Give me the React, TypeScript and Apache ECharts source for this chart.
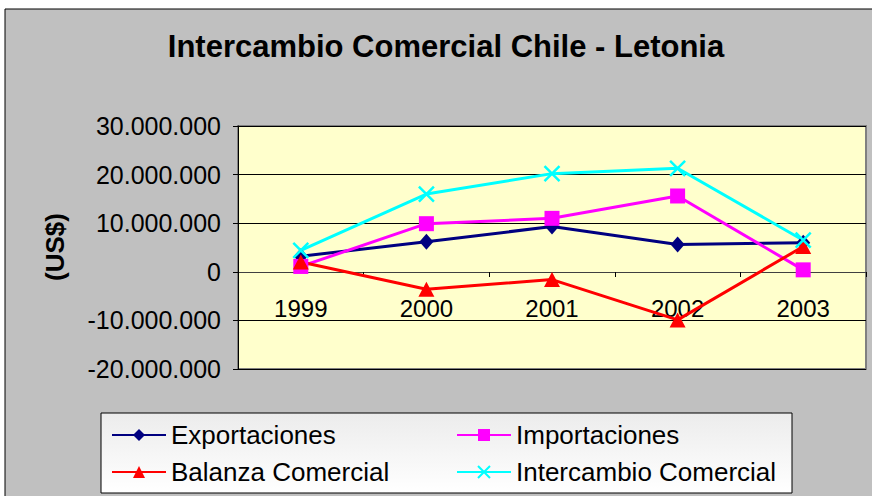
import React, { useEffect, useRef } from 'react';
import * as echarts from 'echarts';

const years = ['1999', '2000', '2001', '2002', '2003'];
const exportaciones = [3200000, 6200000, 9300000, 5600000, 6000000];
const importaciones = [1100000, 9900000, 11000000, 15600000, 400000];
const balanza = [2000000, -3600000, -1600000, -9900000, 5200000];
const intercambio = [4400000, 16000000, 20200000, 21300000, 6500000];

const titleText = 'Intercambio Comercial Chile - Letonia';
const yName = '(US$)';

const FONT = '"Liberation Sans", Arial, sans-serif';

const fmt = (v: number) => {
  const s = Math.abs(v).toString().replace(/\B(?=(\d{3})+(?!\d))/g, '.');
  return (v < 0 ? '-' : '') + s;
};

export default function App() {
  const ref = useRef<HTMLDivElement>(null);
  useEffect(() => {
    document.body.style.margin = '0';
    const chart = echarts.init(ref.current!, null, { renderer: 'svg' });
    const legendCommon = {
      orient: 'vertical',
      top: 417,
      itemGap: 11,
      itemWidth: 54,
      itemHeight: 15,
      textStyle: { fontSize: 26, color: '#000', fontFamily: FONT },
      selectedMode: false,
      z: 10,
    };
    chart.setOption({
      animation: false,
      backgroundColor: '#ffffff',
      graphic: [
        {
          type: 'rect',
          z: -10,
          shape: { x: 5, y: 9, width: 900, height: 600 },
          style: { fill: '#c0c0c0', stroke: '#000', lineWidth: 1 },
        },
        {
          type: 'rect',
          z: 1,
          shape: { x: 101, y: 413, width: 691, height: 80 },
          style: {
            fill: new echarts.graphic.LinearGradient(0, 0, 0, 1, [
              { offset: 0, color: '#ececec' },
              { offset: 1, color: '#ffffff' },
            ]),
            stroke: '#000',
            lineWidth: 1,
          },
        },
        {
          type: 'text',
          z: 5,
          x: 446,
          y: 46,
          style: {
            text: titleText,
            textAlign: 'center',
            textVerticalAlign: 'middle',
            fontSize: 31,
            fontWeight: 'bold',
            fontFamily: FONT,
            fill: '#000',
          },
        },
        {
          type: 'text',
          z: 5,
          x: 55,
          y: 247,
          rotation: Math.PI / 2,
          style: {
            text: yName,
            textAlign: 'center',
            textVerticalAlign: 'middle',
            fontSize: 26,
            fontWeight: 'bold',
            fontFamily: FONT,
            fill: '#000',
          },
        },
      ],
      grid: {
        left: 238,
        top: 126,
        right: 6,
        bottom: 127,
        show: true,
        backgroundColor: '#ffffcc',
        borderColor: '#808080',
        borderWidth: 2,
      },
      legend: [
        { ...legendCommon, left: 106, data: ['Exportaciones', 'Balanza Comercial'] },
        { ...legendCommon, left: 451, data: ['Importaciones', 'Intercambio Comercial'] },
      ],
      xAxis: {
        type: 'category',
        data: years,
        boundaryGap: true,
        position: 'bottom',
        offset: -97,
        axisLine: { onZero: false, lineStyle: { color: '#404040', width: 1 } },
        axisTick: { show: true, length: 5, inside: false, lineStyle: { color: '#000' } },
        axisLabel: { fontSize: 24, color: '#000', fontFamily: FONT, margin: 24 },
        splitLine: { show: false },
      },
      yAxis: {
        type: 'value',
        min: -20000000,
        max: 30000000,
        interval: 10000000,
        axisLine: { show: true, lineStyle: { color: '#000', width: 1 } },
        axisTick: { show: true, length: 5, lineStyle: { color: '#000' } },
        axisLabel: { fontSize: 25, color: '#000', fontFamily: FONT, margin: 17, formatter: fmt },
        splitLine: { show: true, lineStyle: { color: '#000', width: 1 } },
      },
      series: [
        {
          name: 'Exportaciones',
          type: 'line',
          data: exportaciones,
          symbol: 'diamond',
          symbolSize: [14, 16],
          lineStyle: { color: '#000080', width: 3 },
          itemStyle: { color: '#000080' },
        },
        {
          name: 'Importaciones',
          type: 'line',
          data: importaciones,
          symbol: 'rect',
          symbolSize: 15,
          lineStyle: { color: '#ff00ff', width: 3 },
          itemStyle: { color: '#ff00ff' },
        },
        {
          name: 'Balanza Comercial',
          type: 'line',
          data: balanza,
          symbol: 'triangle',
          symbolSize: [16, 15],
          lineStyle: { color: '#ff0000', width: 3 },
          itemStyle: { color: '#ff0000' },
        },
        {
          name: 'Intercambio Comercial',
          type: 'line',
          data: intercambio,
          symbol: 'path://M0,0L10,10M10,0L0,10',
          symbolSize: 15,
          lineStyle: { color: '#00ffff', width: 3 },
          itemStyle: { color: '#00ffff', borderColor: '#00ffff', borderWidth: 2.5 },
        },
      ],
    });
    return () => chart.dispose();
  }, []);
  return <div ref={ref} style={{ width: 872, height: 496 }} />;
}
